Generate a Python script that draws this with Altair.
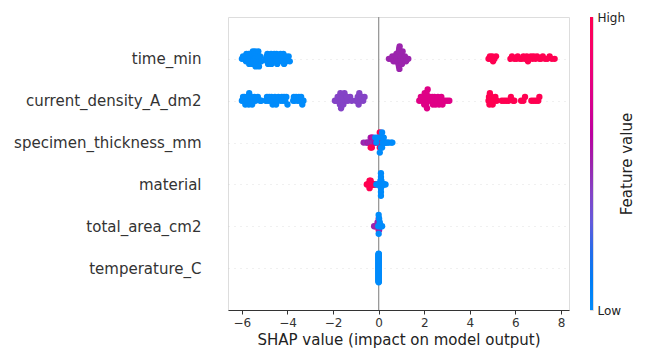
import math
import numpy as np
import pandas as pd
import altair as alt

# ---------------- data ----------------
FEATURES = ["time_min", "current_density_A_dm2", "specimen_thickness_mm",
            "material", "total_area_cm2", "temperature_C"]  # top to bottom

# time_min
time_min_shap = [
    -6.0, -5.95, -5.9, -5.85, -5.82, -5.8, -5.78, -5.75, -5.72, -5.7, -5.68,
    -5.62, -5.6, -5.58, -5.55, -5.54, -5.52, -5.48, -5.47, -5.45, -5.44,
    -5.43, -5.42, -5.4, -5.38, -5.36, -5.35, -5.32, -5.3, -5.28, -5.25,
    -5.22, -5.2, -5.15,
    -4.95, -4.92, -4.9, -4.88, -4.85, -4.8, -4.78, -4.75, -4.72, -4.7,
    -4.65, -4.62, -4.6, -4.58, -4.55, -4.52, -4.5, -4.48, -4.45, -4.4,
    -4.38, -4.35, -4.3, -4.25, -4.22, -4.2, -4.18, -4.15, -4.1, -4.08,
    -4.05, -4.0, -3.95, -3.9,
    0.45, 0.55, 0.6, 0.65, 0.68, 0.72, 0.75, 0.78, 0.8, 0.82, 0.85, 0.86,
    0.87, 0.88, 0.89, 0.9, 0.91, 0.92, 0.94, 0.96, 0.98, 1.0, 1.02, 1.05,
    1.1, 1.15, 1.2, 1.3,
    4.82, 4.88, 4.92, 4.98, 5.02, 5.08, 5.15, 5.78, 5.85, 5.95, 6.05, 6.1,
    6.2, 6.28, 6.35, 6.42, 6.5, 6.55, 6.6, 6.68, 6.75, 6.8, 6.88, 6.95,
    7.05, 7.12, 7.2, 7.3, 7.4, 7.5, 7.6, 7.72]
time_min_value = [
    0, 0, 0, 0, 0, 0, 0, 0, 0, 0, 0, 0, 0, 0, 0, 0, 0, 0, 0, 0, 0, 0, 0,
    0, 0, 0, 0, 0, 0, 0, 0, 0, 0, 0,
    0, 0, 0, 0, 0, 0, 0, 0, 0, 0, 0, 0, 0, 0, 0, 0, 0, 0, 0, 0, 0, 0, 0,
    0, 0, 0, 0, 0, 0, 0, 0, 0, 0, 0,
    0.5, 0.5, 0.5, 0.5, 0.5, 0.5, 0.5, 0.5, 0.5, 0.5, 0.5, 0.5, 0.5, 0.5,
    0.5, 0.5, 0.5, 0.5, 0.5, 0.5, 0.5, 0.5, 0.5, 0.5, 0.5, 0.5, 0.5, 0.5,
    1, 1, 1, 1, 1, 1, 1, 1, 1, 1, 1, 1, 1, 1, 1, 1, 1, 1, 1, 1, 1, 1, 1,
    1, 1, 1, 1, 1, 1, 1, 1, 1]

# current_density_A_dm2
current_density_shap = [
    -6.0, -5.95, -5.9, -5.88, -5.85, -5.8, -5.75, -5.7, -5.68, -5.65, -5.6,
    -5.55, -5.5, -5.45, -5.4, -5.3, -5.2, -5.15,
    -4.95, -4.9, -4.85, -4.8, -4.75, -4.7, -4.65, -4.6, -4.55, -4.5, -4.45,
    -4.4, -4.3, -4.25, -4.2, -4.15, -4.1, -4.05, -4.0,
    -3.75, -3.72, -3.68, -3.62, -3.55, -3.5, -3.45, -3.4, -3.35, -3.3,
    -1.92, -1.85, -1.8, -1.75, -1.72, -1.7, -1.68, -1.65, -1.62, -1.6,
    -1.55, -1.5, -1.45, -1.4, -1.35, -1.25, -1.18,
    -1.0, -0.95, -0.92, -0.88, -0.85, -0.8, -0.75, -0.68, -0.62,
    1.78, 1.85, 1.9, 1.95, 2.0, 2.02, 2.04, 2.06, 2.08, 2.1, 2.12, 2.15,
    2.2, 2.25, 2.3, 2.35, 2.38, 2.42, 2.45, 2.5, 2.55, 2.6, 2.65, 2.7,
    2.75, 2.8, 2.9, 3.0, 3.1,
    4.82, 4.84, 4.86, 4.88, 4.9, 4.95, 5.0, 5.05, 5.12, 5.18, 5.4, 5.5,
    5.6, 5.7, 5.8, 5.9, 5.95, 6.25, 6.35, 6.42, 6.7, 6.8, 6.9, 7.0, 7.05]
current_density_value = [
    0, 0, 0, 0, 0, 0, 0, 0, 0, 0, 0, 0, 0, 0, 0, 0, 0, 0,
    0, 0, 0, 0, 0, 0, 0, 0, 0, 0, 0, 0, 0, 0, 0, 0, 0, 0, 0,
    0, 0, 0, 0, 0, 0, 0, 0, 0, 0,
    0.4, 0.4, 0.4, 0.4, 0.4, 0.4, 0.4, 0.4, 0.4, 0.4, 0.4, 0.4, 0.4, 0.4,
    0.4, 0.4, 0.4,
    0.4, 0.4, 0.4, 0.4, 0.4, 0.4, 0.4, 0.4, 0.4,
    0.75, 0.75, 0.75, 0.75, 0.75, 0.75, 0.75, 0.75, 0.75, 0.75, 0.75,
    0.75, 0.75, 0.75, 0.75, 0.75, 0.75, 0.75, 0.75, 0.75, 0.75, 0.75,
    0.75, 0.75, 0.75, 0.75, 0.75, 0.75, 0.75,
    1, 1, 1, 1, 1, 1, 1, 1, 1, 1, 1, 1, 1, 1, 1, 1, 1, 1, 1, 1, 1, 1, 1,
    1, 1]

# specimen_thickness_mm
specimen_shap = [
    -0.66, -0.55, -0.5, -0.45, -0.42, -0.4, -0.38, -0.35, -0.35, -0.32,
    -0.3, -0.3, -0.28, -0.25, -0.25, -0.22, -0.2, -0.18, -0.15,
    -0.35, -0.3, -0.05, 0.0, 0.02, 0.05, 0.05, 0.05, 0.05, 0.08, 0.08,
    0.1, 0.1, 0.12, 0.15,
    -0.15, -0.1, -0.05, 0.0, 0.05, 0.1, 0.15, 0.15, 0.15, 0.18, 0.2, 0.2,
    0.22, 0.22, 0.25, 0.28, 0.3, 0.35, 0.4, 0.45, 0.55, 0.6]
specimen_value = [
    0.5, 0.45, 0.5, 0.55, 0.5, 0.45, 0.5, 0.55, 0.5, 0.45, 0.5, 0.6, 0.5,
    0.45, 0.55, 0.5, 0.5, 0.45, 0.6,
    1, 1, 1, 1, 1, 1, 1, 1, 1, 1, 1, 1, 1, 1, 1,
    0, 0, 0, 0, 0, 0, 0, 0, 0, 0, 0, 0, 0, 0, 0, 0, 0, 0, 0, 0, 0, 0]

# material
material_shap = [
    -0.52, -0.48, -0.45, -0.42, -0.4, -0.4, -0.4, -0.38, -0.36, -0.35,
    -0.35, -0.33, -0.3, -0.28, -0.25, -0.22, -0.2, -0.18, -0.15,
    -0.1, -0.05, -0.02, 0.0, 0.02, 0.04, 0.05, 0.06, 0.08, 0.08, 0.1, 0.1,
    0.1, 0.1, 0.1, 0.1, 0.1, 0.12, 0.12, 0.14, 0.15, 0.18, 0.2, 0.22,
    0.25, 0.3]
material_value = [
    1, 1, 1, 1, 1, 1, 1, 1, 1, 1, 1, 1, 1, 1, 1, 1, 1, 1, 1,
    0, 0, 0, 0, 0, 0, 0, 0, 0, 0, 0, 0, 0, 0, 0, 0, 0, 0, 0, 0, 0, 0, 0,
    0, 0, 0]

# total_area_cm2
total_area_shap = [
    -0.05, 0.0, 0.0, 0.0, 0.02, 0.02, 0.05,
    -0.2, -0.15, -0.1, -0.05, 0.0, 0.02,
    -0.02, 0.0, 0.0, 0.02, 0.05, 0.08, 0.1, 0.15]
total_area_value = [
    1, 1, 1, 1, 1, 1, 1,
    0.5, 0.5, 0.5, 0.5, 0.5, 0.5,
    0, 0, 0, 0, 0, 0, 0, 0]

# temperature_C
temperature_shap = [
    0.0, 0.0, 0.0, 0.0, 0.0, 0.0, 0.0, 0.0, 0.0, 0.0, 0.0, 0.0, 0.0, 0.0,
    0.0, 0.0, 0.0, 0.0, 0.0, 0.0, 0.0, 0.0, 0.0, 0.0, 0.0, 0.0, 0.0, 0.0,
    0.0, 0.0, 0.0, 0.0, 0.0, 0.0, 0.0, 0.0, 0.0, 0.0, 0.0, 0.0, 0.0, 0.0,
    0.0, 0.0, 0.0, 0.0, 0.0, 0.0, 0.0, 0.0, 0.0, 0.0, 0.0, 0.0, 0.0, 0.0,
    0.0, 0.0, 0.0, 0.0]
temperature_value = [
    0, 0, 0, 0, 0, 0, 0, 0, 0, 0, 0, 0, 0, 0, 0, 0, 0, 0, 0, 0, 0, 0, 0,
    0, 0, 0, 0, 0, 0, 0, 0, 0, 0, 0, 0, 0, 0, 0, 0, 0, 0, 0, 0, 0, 0, 0,
    0, 0, 0, 0, 0, 0, 0, 0, 0, 0, 0, 0, 0, 0]

X_TICKS = [-6, -4, -2, 0, 2, 4, 6, 8]

ROWS = [
    (time_min_shap, time_min_value),
    (current_density_shap, current_density_value),
    (specimen_shap, specimen_value),
    (material_shap, material_value),
    (total_area_shap, total_area_value),
    (temperature_shap, temperature_value),
]


# ---------------- beeswarm layout (as in shap) ----------------
def swarm_offsets(shaps, row_height=0.4, nbins=100):
    s = np.asarray(shaps, dtype=float)
    n = len(s)
    quant = np.round(nbins * (s - s.min()) / (s.max() - s.min() + 1e-8))
    inds = np.argsort(quant, kind="stable")
    layer = 0
    last_bin = -1
    ys = np.zeros(n)
    for ind in inds:
        if quant[ind] != last_bin:
            layer = 0
        ys[ind] = math.ceil(layer / 2) * ((layer % 2) * 2 - 1)
        layer += 1
        last_bin = quant[ind]
    ys *= 0.9 * (row_height / np.max(ys + 1))
    return ys


records = []
n_feat = len(FEATURES)
for r, (sv, fv) in enumerate(ROWS):
    pos = n_feat - 1 - r
    offs = swarm_offsets(sv)
    for s, f, o in zip(sv, fv, offs):
        records.append({"feature": FEATURES[r], "shap": s, "fv": f,
                        "ypos": pos + float(o)})
df = pd.DataFrame(records)


# ---------------- shap red_blue colormap (LCh) ----------------
def lch_hex(L, C, h):
    a = C * math.cos(h)
    b = C * math.sin(h)
    fy = (L + 16) / 116
    fx = fy + a / 500
    fz = fy - b / 200

    def finv(t):
        return t ** 3 if t ** 3 > 0.008856 else (t - 16 / 116) / 7.787

    X = 0.95047 * finv(fx)
    Y = finv(fy)
    Z = 1.08883 * finv(fz)
    rl = 3.2406 * X - 1.5372 * Y - 0.4986 * Z
    gl = -0.9689 * X + 1.8758 * Y + 0.0415 * Z
    bl = 0.0557 * X - 0.2040 * Y + 1.0570 * Z

    def gam(v):
        v = 12.92 * v if v <= 0.0031308 else 1.055 * (max(v, 0) ** (1 / 2.4)) - 0.055
        return int(round(min(max(v, 0), 1) * 255))

    return "#%02x%02x%02x" % (gam(rl), gam(gl), gam(bl))


stops = [i / 10 for i in range(11)]
cmap = []
for t in stops:
    L = 54 + (40 - 54) * t / 0.5 if t <= 0.5 else 40 + (54 - 40) * (t - 0.5) / 0.5
    C = 70 + 20 * t
    h = 4.6588 + t * (0.35470565 + 2 * math.pi - 4.6588)
    cmap.append(lch_hex(L, C, h))

FONT = "DejaVu Sans"
PLOT_W, PLOT_H = 341, 293

x_enc = alt.X(
    "shap:Q",
    scale=alt.Scale(domain=[-6.61, 8.35], nice=False, zero=False),
    axis=alt.Axis(values=X_TICKS, title="SHAP value (impact on model output)",
                  grid=False, tickSize=4, tickColor="#333333",
                  domainColor="#333333", labelColor="#333333",
                  labelFontSize=12, labelPadding=3, titleFontSize=15,
                  titleFontWeight="normal", titleColor="#222222",
                  titlePadding=4, labelFont=FONT, titleFont=FONT),
)

label_expr = "[" + ",".join("'%s'" % f for f in reversed(FEATURES)) + "][datum.value]"

zero_rule = alt.Chart(pd.DataFrame({"shap": [0.0]})).mark_rule(
    color="#999999", strokeWidth=1.3).encode(x=x_enc)

points = alt.Chart(df).mark_circle(size=40, opacity=1).encode(
    x=x_enc,
    y=alt.Y("ypos:Q", scale=alt.Scale(domain=[-1, n_feat], nice=False, zero=False),
            axis=alt.Axis(values=list(range(n_feat)), labelExpr=label_expr,
                          title=None, ticks=False, tickSize=0, domain=False,
                          grid=True, gridDash=[1, 5], gridColor="#cccccc",
                          gridWidth=0.6, labelFontSize=15, labelColor="#333333",
                          labelPadding=27, labelLimit=0, labelFont=FONT)),
    color=alt.Color("fv:Q", scale=alt.Scale(domain=stops, range=cmap,
                                            interpolate="lab"), legend=None),
)

main = alt.layer(zero_rule, points).properties(width=PLOT_W, height=PLOT_H)

gradient = {
    "gradient": "linear",
    "x1": 0, "y1": 1, "x2": 0, "y2": 0,
    "stops": [{"offset": t, "color": c} for t, c in zip(stops, cmap)],
}

cbar = alt.Chart(pd.DataFrame({"lo": [0.0], "hi": [1.0]})).mark_rect(
    color=gradient).encode(
    y=alt.Y("lo:Q", scale=alt.Scale(domain=[0, 1], nice=False, zero=False),
            axis=alt.Axis(orient="right", values=[0, 1],
                          labelExpr="datum.value == 0 ? 'Low' : 'High'",
                          title="Feature value", titleAngle=270,
                          domain=False, ticks=False, tickSize=0, grid=False,
                          labelFontSize=12, labelColor="#222222",
                          labelPadding=4, titleFontSize=15,
                          titleFontWeight="normal", titleColor="#222222",
                          titlePadding=10, labelFont=FONT, titleFont=FONT)),
    y2="hi:Q",
    x=alt.value(0),
    x2=alt.value(3),
).properties(width=3, height=PLOT_H)

chart = alt.hconcat(main, cbar, spacing=19).properties(
    padding={"left": 5, "top": 2, "right": 0, "bottom": 0}
).configure_view(strokeWidth=0).configure(font=FONT)

chart.save("out.html", embed_options={"renderer": "svg", "actions": False})
